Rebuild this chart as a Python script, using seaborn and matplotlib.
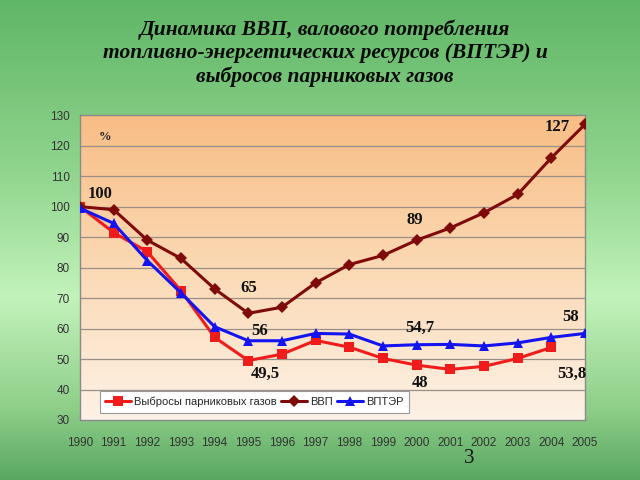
import numpy as np
import pandas as pd
import matplotlib
matplotlib.use("Agg")
import matplotlib.pyplot as plt
import seaborn as sns
from matplotlib.colors import LinearSegmentedColormap

# Data (% of 1990)
years = list(range(1990, 2006))
gdp = [100, 99, 89, 83, 73, 65, 67, 75, 81, 84, 89, 93, 98, 104, 116, 127]
energy = [99.5, 94.5, 82.3, 71.7, 60.6, 56, 56, 58.4, 58.2, 54.3, 54.7, 54.8, 54.3, 55.3, 57.1, 58.4]
emis_years = list(range(1990, 2005))
emissions = [100, 91.5, 85.2, 72.4, 57.1, 49.5, 51.6, 56.1, 53.9, 50.2, 48, 46.6, 47.6, 50.2, 53.8]

labels = ["Выбросы парниковых газов", "ВВП", "ВПТЭР"]

# annotations: (text, series, year)
notes = [("100", "gdp", 1990), ("65", "gdp", 1995), ("56", "energy", 1995),
         ("49,5", "emis", 1995), ("89", "gdp", 2000), ("127", "gdp", 2005),
         ("54,7", "energy", 2000), ("48", "emis", 2000), ("53,8", "emis", 2004),
         ("58", "energy", 2005)]
note_offsets = [(20, 13), (0, 25), (11, 10), (17, -13), (-2, 20), (-28, -3),
                (3, 17), (3, -18), (21, -26), (-14, 16)]

sns.set_style("white")
plt.rcParams["font.family"] = ["Liberation Sans", "DejaVu Sans"]

fig = plt.figure(figsize=(6.4, 4.8), dpi=100)

# green slide background
bg = fig.add_axes([0, 0, 1, 1], zorder=-5)
green = LinearSegmentedColormap.from_list(
    "g", [(0, "#60b667"), (0.35, "#8fd48d"), (0.62, "#c2f3ba"), (0.85, "#8fcf8a"), (1, "#5aa861")])
bg.imshow(np.linspace(0, 1, 256).reshape(-1, 1), cmap=green, aspect="auto", extent=[0, 1, 0, 1])
bg.set_axis_off()

ax = fig.add_axes([0.125, 0.125, 0.789, 0.635])
peach = LinearSegmentedColormap.from_list("p", ["#f8bd85", "#fbd9b4", "#fdf2e6"])
ax.imshow(np.linspace(0, 1, 256).reshape(-1, 1), cmap=peach, aspect="auto",
          extent=[1990, 2005, 30, 130], zorder=0)

for yv in range(40, 130, 10):
    ax.axhline(yv, color="#9a8f86", lw=0.9, zorder=1)

df_e = pd.DataFrame({"year": emis_years, "val": emissions})
df_g = pd.DataFrame({"year": years, "val": gdp})
df_v = pd.DataFrame({"year": years, "val": energy})

sns.lineplot(data=df_e, x="year", y="val", ax=ax, color="#f01c1c", lw=2.2,
             marker="s", markersize=6.5, markeredgewidth=0, label=labels[0], zorder=3)
sns.lineplot(data=df_g, x="year", y="val", ax=ax, color="#7f0a0a", lw=2.2,
             marker="D", markersize=6.5, markeredgewidth=0, label=labels[1], zorder=4)
sns.lineplot(data=df_v, x="year", y="val", ax=ax, color="#1414f0", lw=2.2,
             marker="^", markersize=7.5, markeredgewidth=0, label=labels[2], zorder=5)

series = {"gdp": (years, gdp), "energy": (years, energy), "emis": (emis_years, emissions)}
for (txt, s, yr), (dx, dy) in zip(notes, note_offsets):
    xs, ys = series[s]
    yv = ys[xs.index(yr)]
    ax.annotate(txt, (yr, yv), xytext=(dx, dy), textcoords="offset pixels",
                ha="center", va="center", fontsize=12, fontweight="bold",
                family="Liberation Serif", color="#111111", zorder=6)

ax.text(0.05, 0.93, "%", transform=ax.transAxes, fontsize=9, fontweight="bold",
        family="Liberation Serif", ha="center", va="center")

ax.set_xlim(1990, 2005)
ax.set_ylim(30, 130)
ax.set_xticks(years)
ax.set_yticks(range(30, 131, 10))
ax.set_xlabel("")
ax.set_ylabel("")
ax.tick_params(axis="both", labelsize=8.5, colors="#333333", width=0.8)
ax.tick_params(axis="y", length=4)
ax.tick_params(axis="x", direction="in", length=4, pad=12, color="#8a8a8a")
for sp in ax.spines.values():
    sp.set_color("#8a8a8a")
    sp.set_linewidth(1.0)

leg = ax.legend(loc="lower left", bbox_to_anchor=(0.028, 0.005), ncol=3, frameon=True,
                fancybox=False, edgecolor="#999999", facecolor="white", framealpha=1,
                fontsize=8, handlelength=2.3, handletextpad=0.3, columnspacing=0.4,
                borderpad=0.5)
leg.get_frame().set_linewidth(0.8)
leg.set_zorder(7)

fig.text(0.508, 0.889,
         "Динамика ВВП, валового потребления\nтопливно-энергетических ресурсов (ВПТЭР) и\nвыбросов парниковых газов",
         ha="center", va="center", fontsize=15.5, fontweight="bold", fontstyle="italic",
         family="Liberation Serif", linespacing=1.2, color="#0a0a0a")
fig.text(0.733, 0.044, "3", ha="center", va="center", fontsize=15,
         family="Liberation Serif", color="#111111")

fig.savefig("out.png", dpi=100)
